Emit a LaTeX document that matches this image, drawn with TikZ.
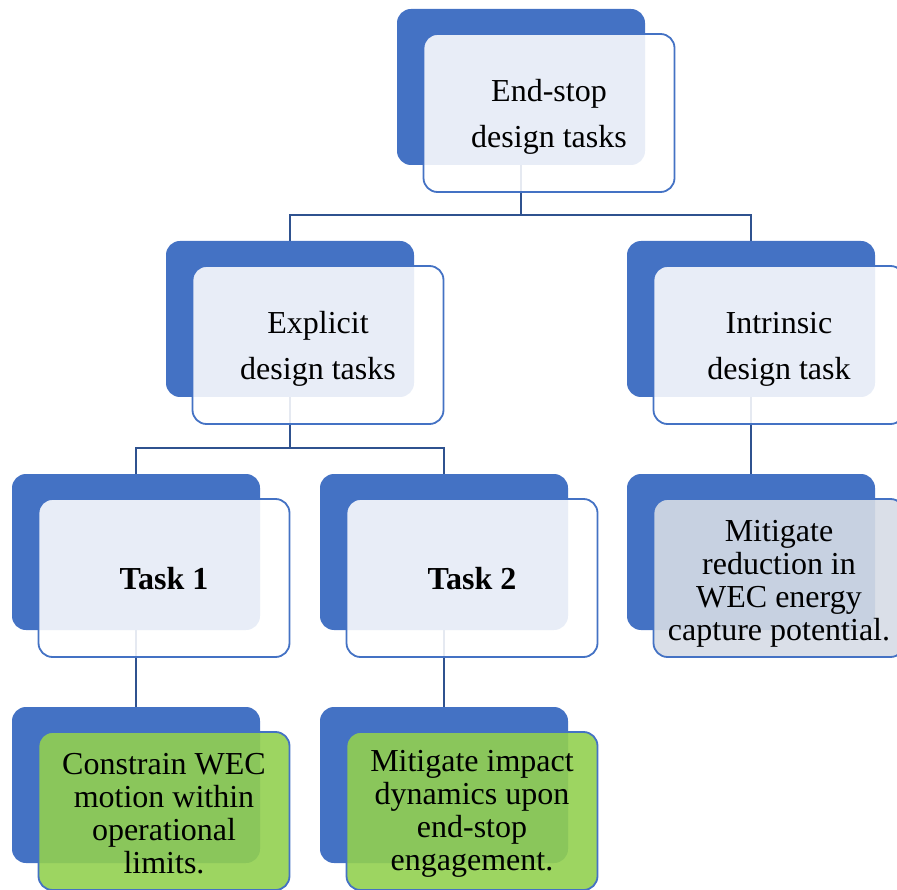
\documentclass[tikz,border=0pt]{standalone}
\usepackage{fontspec}
\setmainfont{Liberation Serif}
\usetikzlibrary{backgrounds}
\definecolor{acc}{HTML}{4472C4}
\definecolor{conn}{HTML}{2F528F}
\definecolor{grn}{HTML}{92D050}
\definecolor{gry}{HTML}{D6DCE5}
\begin{document}
\begin{tikzpicture}[x=1pt,y=-1pt,
 backbox/.style={rectangle, rounded corners=14pt, fill=acc, minimum width=248pt, minimum height=156pt, inner sep=0pt},
 frontbox/.style={rectangle, rounded corners=14pt, draw=acc, line width=1.8pt, fill=white, fill opacity=0.88, minimum width=251pt, minimum height=158pt, inner sep=0pt},
 txt/.style={align=center, inner sep=0pt},
 big/.style={txt, font=\fontsize{32}{46}\selectfont},
 tight/.style={txt, font=\fontsize{32}{33}\selectfont},
 link/.style={draw=conn, line width=2pt}]
\useasboundingbox (0,0) rectangle (897,890);
% back boxes
\node[backbox] (topb) at (521,87) {};
\node[backbox] (expb) at (290,319) {};
\node[backbox] (intb) at (751,319) {};
\node[backbox] (t1b) at (136,552) {};
\node[backbox] (t2b) at (444,552) {};
\node[backbox] (mitb) at (751,552) {};
\node[backbox] (c1b) at (136,785) {};
\node[backbox] (c2b) at (444,785) {};
% front boxes
\node[frontbox] (top) at ([shift={(28,26)}]topb.center) {};
\node[frontbox] (exp) at ([shift={(28,26)}]expb.center) {};
\node[frontbox] (int) at ([shift={(28,26)}]intb.center) {};
\node[frontbox] (t1) at ([shift={(28,26)}]t1b.center) {};
\node[frontbox] (t2) at ([shift={(28,26)}]t2b.center) {};
\node[frontbox,fill=gry,fill opacity=0.9] (mit) at ([shift={(28,26)}]mitb.center) {};
\node[frontbox,fill=grn,fill opacity=0.9] (c1) at ([shift={(28,26)}]c1b.center) {};
\node[frontbox,fill=grn,fill opacity=0.9] (c2) at ([shift={(28,26)}]c2b.center) {};
% texts
\node[big] (topt) at ([yshift=-4pt]top.center) {End-stop\\design tasks};
\node[big] (expt) at ([yshift=-4pt]exp.center) {Explicit\\design tasks};
\node[big] (intt) at ([yshift=-4.5pt]int.center) {Intrinsic\\design task};
\node[big] (t1t) at ([yshift=-1pt]t1.center) {\textbf{Task 1}};
\node[big] (t2t) at ([yshift=-1pt]t2.center) {\textbf{Task 2}};
\node[tight] (mitt) at ([yshift=-5.5pt]mit.center) {Mitigate\\reduction in\\WEC energy\\capture potential.};
\node[tight] (c1t) at ([yshift=-2.5pt]c1.center) {Constrain WEC\\motion within\\operational\\limits.};
\node[tight] (c2t) at ([yshift=-2.5pt]c2.center) {Mitigate impact\\dynamics upon\\end-stop\\engagement.};
% connectors
\begin{scope}[on background layer]
\draw[link] (topb.south) -- ++(0,50) -| (expb.north);
\draw[link] (topb.south) -- ++(0,50) -| (intb.north);
\draw[link] (expb.south) -- ++(0,51) -| (t1b.north);
\draw[link] (expb.south) -- ++(0,51) -| (t2b.north);
\draw[link] (intb.south) -- (mitb.north);
\draw[link] (t1b.south) -- (c1b.north);
\draw[link] (t2b.south) -- (c2b.north);
\end{scope}
\end{tikzpicture}
\end{document}
